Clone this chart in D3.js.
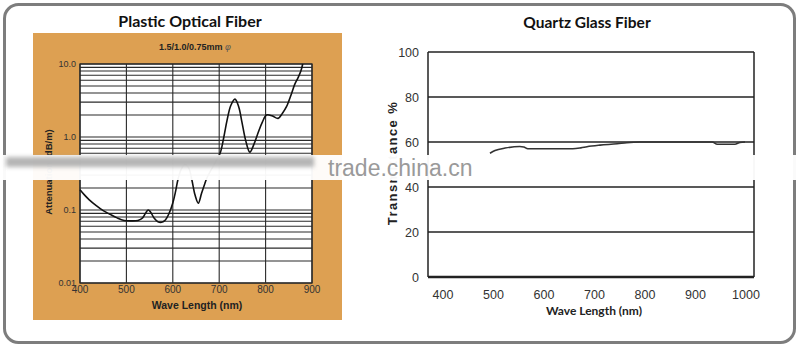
<!DOCTYPE html>
<html><head><meta charset="utf-8">
<script src="https://cdn.jsdelivr.net/npm/d3@7"></script>
<style>html,body{margin:0;padding:0;background:#fff}svg{display:block}</style>
</head><body><svg id="c" width="800" height="351"></svg>
<script>
// ---------- data ----------
const pofWave = [400,410,420,435,450,465,480,495,510,525,535,542,547,552,560,568,576,584,592,600,606,611,618,626,634,641,648,655,662,668,673,687,702,710,717,725,734,742,749,757,766,775,784,793,802,814,827,836,845,855,863,870,876,880];
const pofAtten = [0.19,0.16,0.138,0.115,0.098,0.087,0.078,0.072,0.071,0.072,0.078,0.092,0.1,0.094,0.077,0.069,0.068,0.073,0.09,0.125,0.18,0.26,0.36,0.42,0.38,0.26,0.16,0.124,0.17,0.22,0.27,0.4,0.6,1.0,1.7,2.7,3.3,2.6,1.6,0.9,0.62,0.8,1.15,1.6,2.0,1.95,1.8,2.1,2.6,3.8,5.3,6.5,8.0,10];
const pofXTicks = [400,500,600,700,800,900];
const pofYTicks = [0.01,0.1,1,10];
const pofYLabels = ["0.01","0.1","1.0","10.0"];

const qWave = [493,503,523,552,560,568,657,673,685,711,745,764,790,933,943,978,988,998];
const qTrans = [55,56.2,57.3,58.0,57.8,57.0,57.0,57.4,57.9,58.6,59.2,59.7,60,60,59.0,59.0,59.8,60];
const qXTicks = [400,500,600,700,800,900,1000];
const qYTicks = [0,20,40,60,80,100];

const svg = d3.select("#c");

// outer frame
svg.append("rect").attr("x",4.5).attr("y",4.5).attr("width",790).attr("height",338)
  .attr("rx",14).attr("fill","#fff").attr("stroke","#7d7d7d").attr("stroke-width",3);

// titles
svg.append("text").attr("x",190).attr("y",27).attr("text-anchor","middle")
  .attr("font-family","Lato").attr("font-weight","bold").attr("font-size",16).attr("fill","#111")
  .text("Plastic Optical Fiber");
svg.append("text").attr("x",587).attr("y",28).attr("text-anchor","middle")
  .attr("font-family","Lato").attr("font-weight","bold").attr("font-size",15.5).attr("fill","#111")
  .text("Quartz Glass Fiber");

// ---------- left chart ----------
svg.append("rect").attr("x",33).attr("y",33).attr("width",309).attr("height",287).attr("fill","#DDA052");
const lx = d3.scaleLinear().domain([400,900]).range([80,312]);
const ly = d3.scaleLog().domain([0.01,10]).range([283,64]);
const L = svg.append("g");
L.append("rect").attr("x",80).attr("y",64).attr("width",232).attr("height",219).attr("fill","#fff");
const hLines = [];
[0.01,0.1,1].forEach(d=>{ for(let k=1;k<10;k++) hLines.push(d*k); });
hLines.push(10);
L.selectAll("line.h").data(hLines).join("line")
  .attr("x1",80).attr("x2",312).attr("y1",d=>ly(d)).attr("y2",d=>ly(d))
  .attr("stroke","#2a2a2a").attr("stroke-width",1.1);
L.selectAll("line.v").data(pofXTicks).join("line")
  .attr("y1",64).attr("y2",283).attr("x1",d=>lx(d)).attr("x2",d=>lx(d))
  .attr("stroke","#2a2a2a").attr("stroke-width",1.1);
L.append("rect").attr("x",80).attr("y",64).attr("width",232).attr("height",219)
  .attr("fill","none").attr("stroke","#2a2a2a").attr("stroke-width",1.3);
L.append("path").datum(pofWave.map((w,i)=>[w,pofAtten[i]]))
  .attr("d",d3.line().x(d=>lx(d[0])).y(d=>ly(d[1])).curve(d3.curveCatmullRom))
  .attr("fill","none").attr("stroke","#111").attr("stroke-width",1.6);
L.selectAll("text.yt").data(pofYTicks).join("text")
  .attr("x",76).attr("y",d=>ly(d)+3).attr("text-anchor","end")
  .attr("font-family","Liberation Sans").attr("font-size",9).attr("fill","#333")
  .text((d,i)=>pofYLabels[i]);
L.selectAll("text.xt").data(pofXTicks).join("text")
  .attr("x",d=>lx(d)).attr("y",293).attr("text-anchor","middle")
  .attr("font-family","Liberation Sans").attr("font-size",10).attr("fill","#333")
  .text(d=>d);
L.append("text").attr("x",197).attr("y",309).attr("text-anchor","middle")
  .attr("font-family","Liberation Sans").attr("font-weight","bold").attr("font-size",10.5).attr("fill","#222")
  .text("Wave Length (nm)");
L.append("text").attr("transform","translate(52,172) rotate(-90)").attr("text-anchor","middle")
  .attr("font-family","Liberation Sans").attr("font-weight","bold").attr("font-size",9.5).attr("fill","#222")
  .text("Attenuation (dB/m)");
const sub = L.append("text").attr("x",195).attr("y",50).attr("text-anchor","middle")
  .attr("font-family","Liberation Sans").attr("font-weight","bold").attr("font-size",9).attr("fill","#222");
sub.append("tspan").text("1.5/1.0/0.75mm ");
sub.append("tspan").attr("font-style","italic").attr("font-weight","normal").attr("fill","#555").text("φ");

// ---------- right chart ----------
const rx = d3.scaleLinear().domain([400,1000]).range([443,746]);
const ry = d3.scaleLinear().domain([0,100]).range([277,52]);
const R = svg.append("g");
R.selectAll("line.h").data(qYTicks).join("line")
  .attr("x1",428).attr("x2",754).attr("y1",d=>ry(d)).attr("y2",d=>ry(d))
  .attr("stroke","#222").attr("stroke-width",d=>d===0?2.5:1.4);
R.selectAll("line.v").data([428,754]).join("line")
  .attr("x1",d=>d).attr("x2",d=>d).attr("y1",ry(100)).attr("y2",ry(0))
  .attr("stroke","#222").attr("stroke-width",1.5);
R.append("path").datum(qWave.map((w,i)=>[w,qTrans[i]]))
  .attr("d",d3.line().x(d=>rx(d[0])).y(d=>ry(d[1])).curve(d3.curveMonotoneX))
  .attr("fill","none").attr("stroke","#333").attr("stroke-width",1.6);
R.selectAll("text.yt").data(qYTicks).join("text")
  .attr("x",419).attr("y",d=>ry(d)+4.5).attr("text-anchor","end")
  .attr("font-family","Liberation Sans").attr("font-size",12.5).attr("fill","#333")
  .text(d=>d);
R.selectAll("text.xt").data(qXTicks).join("text")
  .attr("x",d=>rx(d)).attr("y",299).attr("text-anchor","middle")
  .attr("font-family","Liberation Sans").attr("font-size",12.5).attr("fill","#333")
  .text(d=>d);
R.append("text").attr("x",594).attr("y",315).attr("text-anchor","middle")
  .attr("font-family","Lato").attr("font-weight","bold").attr("font-size",12).attr("fill","#222")
  .text("Wave Length (nm)");
R.append("text").attr("transform","translate(397,163) rotate(-90)").attr("text-anchor","middle")
  .attr("font-family","Liberation Sans").attr("font-weight","bold").attr("font-size",13)
  .attr("letter-spacing",1.4).attr("fill","#222")
  .text("Transmittance %");

// ---------- watermark band ----------
const defs = svg.append("defs");
defs.append("filter").attr("id","blur").attr("x","-5%").attr("y","-50%").attr("width","110%").attr("height","200%")
  .append("feGaussianBlur").attr("stdDeviation",2);
svg.append("rect").attr("x",0).attr("y",155).attr("width",800).attr("height",25)
  .attr("fill","#fff").attr("opacity",0.96);
svg.append("rect").attr("x",6).attr("y",157).attr("width",308).attr("height",10)
  .attr("fill","#a3a3a3").attr("opacity",0.8).attr("filter","url(#blur)");
svg.append("text").attr("x",328).attr("y",176)
  .attr("font-family","Liberation Sans").attr("font-size",23).attr("fill","#9a9a9a")
  .text("trade.china.cn");
</script></body></html>
